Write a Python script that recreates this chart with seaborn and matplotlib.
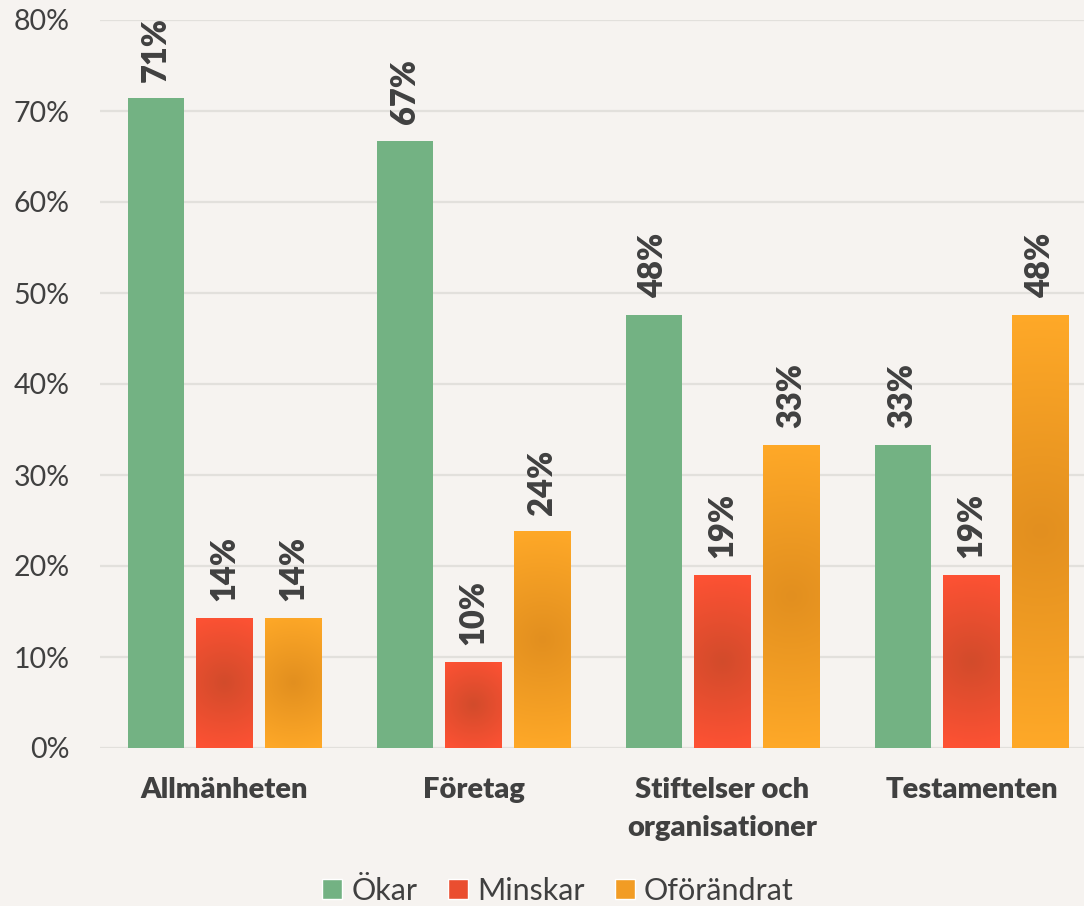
import numpy as np
import pandas as pd
import matplotlib
matplotlib.use("Agg")
import matplotlib.pyplot as plt
import seaborn as sns
from matplotlib.ticker import PercentFormatter
from matplotlib.patches import Patch

categories = ["Allmänheten", "Företag", "Stiftelser och\norganisationer", "Testamenten"]
series = ["Ökar", "Minskar", "Oförändrat"]
okar = [71.4, 66.7, 47.6, 33.3]
minskar = [14.3, 9.5, 19.0, 19.0]
oforandrat = [14.3, 23.8, 33.3, 47.6]

colors = ["#73B283", "#FF5234", "#FFA928"]
center_colors = [None, "#D24B2B", "#E28F1F"]
bg = "#F6F3F0"
txt = "#404040"

df = pd.DataFrame({
    "cat": categories * 3,
    "series": [series[0]] * 4 + [series[1]] * 4 + [series[2]] * 4,
    "val": okar + minskar + oforandrat,
})

sns.set_theme(style="white")
plt.rcParams["font.family"] = ["Lato", "DejaVu Sans"]

fig = plt.figure(figsize=(10.84, 9.06), dpi=100, facecolor=bg)
ax = fig.add_axes([100 / 1084, 1 - 748 / 906, 1 - 100 / 1084, (748 - 20) / 906])
ax.set_facecolor(bg)

sns.barplot(data=df, x="cat", y="val", hue="series", order=categories,
            hue_order=series, palette=colors, width=0.831, gap=0.188,
            saturation=1, ax=ax, legend=False, zorder=3, linewidth=0)

# radial gradients on red and orange bars
def hex2rgb(h):
    return np.array(matplotlib.colors.to_rgb(h))

for ci, cont in enumerate(ax.containers):
    if center_colors[ci] is None:
        continue
    edge = hex2rgb(colors[ci])
    cen = hex2rgb(center_colors[ci])
    for p in cont.patches:
        x0, y0 = p.get_x(), p.get_y()
        w, h = p.get_width(), p.get_height()
        wp = w * 249
        hp = h * 9.1
        nx, ny = 60, 200
        xs = (np.linspace(0, 1, nx) - 0.5) * wp
        ys = (np.linspace(0, 1, ny) - 0.5) * hp
        X, Y = np.meshgrid(xs, ys)
        R = np.sqrt((wp / 2) ** 2 + (hp / 2) ** 2)
        t = np.clip(np.sqrt(X ** 2 + Y ** 2) / R, 0, 1)
        img = cen[None, None, :] + (edge - cen)[None, None, :] * t[:, :, None]
        im = ax.imshow(img, extent=[x0, x0 + w, y0, y0 + h], origin="lower",
                       aspect="auto", zorder=3.5, interpolation="bilinear")
        im.set_clip_path(p)

ax.set_ylim(0, 80)
ax.set_xlim(-0.5, -0.5 + 984 / 249)

# value labels
for cont in ax.containers:
    labels = [f"{v:.0f}%" for v in cont.datavalues]
    ax.bar_label(cont, labels=labels, padding=12, rotation=90, fontsize=23.5,
                 fontweight="heavy", color=txt)

ax.yaxis.set_major_formatter(PercentFormatter(decimals=0))
ax.set_yticks(np.arange(0, 81, 10))
ax.grid(axis="y", color="#E2E0DC", linewidth=1.6, zorder=0)
ax.set_axisbelow(True)
for s in ax.spines.values():
    s.set_visible(False)
ax.tick_params(axis="y", length=0, pad=22, labelsize=20.5, labelcolor=txt)
ax.tick_params(axis="x", length=0, pad=21, labelsize=21, labelcolor=txt)
for lab in ax.get_xticklabels():
    lab.set_fontweight("heavy")
    lab.set_linespacing(1.55)
ax.set_xlabel("")
ax.set_ylabel("")

handles = [Patch(facecolor=colors[0]), Patch(facecolor="#EA4E30"), Patch(facecolor="#F29C24")]
fig.legend(handles, series, loc="center", bbox_to_anchor=(558 / 1084, 1 - 891 / 906),
           ncol=3, frameon=False, fontsize=22, handlelength=0.65, handleheight=0.65,
           handletextpad=0.3, columnspacing=1.0, labelcolor=txt, borderpad=0)

fig.savefig("out.png", dpi=100, facecolor=bg)
